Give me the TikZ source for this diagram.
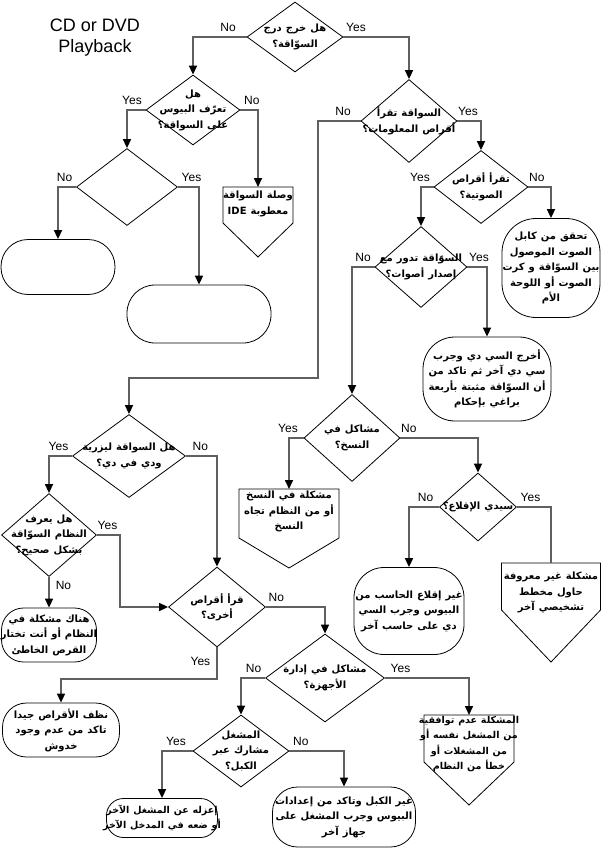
\documentclass[tikz,border=0pt]{standalone}
\usepackage{fontspec}
\setmainfont{Liberation Sans}
\newfontfamily\arabicfont[Script=Arabic, WordSpace=1.15]{DejaVu Sans}
\TeXXeTstate=1
\usepackage{tikz}
\usetikzlibrary{shapes.geometric, arrows.meta}
\definecolor{LineGray}{RGB}{96,96,96}
% outline of an off-page box below a text node: name, half width, shoulder depth, tip depth
\newcommand\pentout[4]{\draw[boxline] (#1.north) ++(-#2,0) -- ++(2*#2,0) -- ++(0,#3) -- ++(-#2,#4) -- ++(-#2,-#4) -- cycle;}

\begin{document}
\begin{tikzpicture}[x=1pt, y=-1pt,
    boxline/.style={draw=black, line width=0.8pt},
    dia/.style={diamond, boxline, inner sep=0pt},
    term/.style={rectangle, boxline, inner sep=0pt},
    txt/.style={align=center, inner sep=0pt, font=\arabicfont\bfseries\fontsize{10}{15.5}\selectfont},
    pent/.style={txt, anchor=north},
    flow/.style={draw=LineGray, line width=1.6pt, -{Triangle[length=9pt, width=8pt, color=black]}},
    plain/.style={draw=LineGray, line width=1.6pt},
    yn/.style={font=\fontsize{12}{12}\selectfont, inner sep=0pt},
    ynl/.style={yn, anchor=south east, xshift=-3pt, yshift=5pt},
    ynr/.style={yn, anchor=south west, xshift=3pt, yshift=5pt}]
    \useasboundingbox (0,0) rectangle (602,848);

    % title
    \node[font=\fontsize{18}{21}\selectfont, align=center] (title) at (95,38) {CD or DVD\\Playback};

    % decisions
    \node[dia, minimum width=96pt, minimum height=70pt, label={[txt]center:{\beginR هل خرج درج\endR\\\beginR السوّاقة؟\endR}}] (d1) at (295,37) {};
    \node[dia, minimum width=94pt, minimum height=70pt, label={[txt]center:{\beginR هل\endR\\\beginR تعرّف البيوس\endR\\\beginR على السواقة؟\endR}}] (d2) at (193,110) {};
    \node[dia, minimum width=101pt, minimum height=77pt] (d4) at (127,187) {};
    \node[dia, minimum width=96pt, minimum height=83pt, label={[txt]center:{\beginR السواقة تقرأ\endR\\\beginR أقراص المعلومات؟\endR}}] (d3) at (409,121) {};
    \node[dia, minimum width=94pt, minimum height=73pt, label={[txt]center:{\beginR تقرأ أقراص\endR\\\beginR الصوتية؟\endR}}] (d5) at (481,187) {};
    \node[dia, minimum width=92pt, minimum height=81pt, label={[txt]center:{\beginR السوّاقة تدور مع\endR\\\beginR إصدار أصوات؟\endR}}] (d6) at (421,267) {};
    \node[dia, minimum width=96pt, minimum height=87pt, label={[txt]center:{\beginR مشاكل في\endR\\\beginR النسخ؟\endR}}] (d7) at (352,438) {};
    \node[dia, minimum width=77pt, minimum height=68pt, label={[txt]center:{\beginR سيدي الإقلاع؟\endR}}] (d8) at (478,507) {};
    \node[dia, minimum width=113pt, minimum height=83pt, label={[txt]center:{\beginR هل السواقة ليزرية\endR\\\beginR ودي في دي؟\endR}}] (d9) at (129,456) {};
    \node[dia, minimum width=95pt, minimum height=83pt, label={[txt]center:{\beginR هل يعرف\endR\\\beginR النظام السوّاقة\endR\\\beginR بشكل صحيح؟\endR}}] (d10) at (49,535) {};
    \node[dia, minimum width=97pt, minimum height=80pt, label={[txt]center:{\beginR قرأ أقراص\endR\\\beginR أخرى؟\endR}}] (d11) at (217,607) {};
    \node[dia, minimum width=119pt, minimum height=88pt, label={[txt]center:{\beginR مشاكل في إدارة\endR\\\beginR الأجهزة؟\endR}}] (d12) at (325,678) {};
    \node[dia, minimum width=96pt, minimum height=72pt, label={[txt]center:{\beginR المشغل\endR\\\beginR مشارك عبر\endR\\\beginR الكبل؟\endR}}] (d13) at (241,751) {};

    % end points
    \node[term, rounded corners=27pt, minimum width=114pt, minimum height=55pt] (t1) at (58,267) {};
    \node[term, rounded corners=28pt, minimum width=144pt, minimum height=58pt] (t2) at (199,314) {};
    \node[term, rounded corners=34pt, minimum width=98pt, minimum height=99pt, label={[txt]center:{\beginR تحقق من كابل\endR\\\beginR الصوت الموصول\endR\\\beginR بين السوّاقة و كرت\endR\\\beginR الصوت أو اللوحة\endR\\\beginR الأم\endR}}] (t3) at (551,268) {};
    \node[term, rounded corners=32pt, minimum width=128pt, minimum height=84pt, label={[txt]center:{\beginR أخرج السي دي وجرب\endR\\\beginR سي دي آخر ثم تاكد من\endR\\\beginR أن السوّاقة مثبتة بأربعة\endR\\\beginR براغي بإحكام\endR}}] (t4) at (487,379) {};
    \node[term, rounded corners=30pt, minimum width=110pt, minimum height=87pt, label={[txt]center:{\beginR غير إقلاع الحاسب من\endR\\\beginR البيوس وجرب السي\endR\\\beginR دي على حاسب آخر\endR}}] (t5) at (409,611) {};
    \node[term, rounded corners=22pt, minimum width=95pt, minimum height=54pt, label={[txt]center:{\beginR هناك مشكلة في\endR\\\beginR النظام أو أنت تختار\endR\\\beginR القرص الخاطئ\endR}}] (t6) at (49,635) {};
    \node[term, rounded corners=24pt, minimum width=117pt, minimum height=54pt, label={[txt]center:{\beginR نظف الأقراص جيدا\endR\\\beginR تاكد من عدم وجود\endR\\\beginR خدوش\endR}}] (t7) at (61,730) {};
    \node[term, rounded corners=17pt, minimum width=111pt, minimum height=39pt, label={[txt, font=\arabicfont\bfseries\fontsize{9.5}{15.5}\selectfont]center:{\beginR إعزله عن المشغل الآخر\endR\\\beginR أو ضعه في المدخل الآخر\endR}}] (t8) at (162,818) {};
    \node[term, rounded corners=25pt, minimum width=143pt, minimum height=60pt, label={[txt]center:{\beginR غير الكبل وتاكد من إعدادات\endR\\\beginR البيوس وجرب المشغل على\endR\\\beginR جهاز آخر\endR}}] (t9) at (344,817) {};

    % off-page boxes
    \node[pent, inner ysep=4pt] (ide) at (258,187) {\beginR وصلة السواقة\endR\\\beginR معطوبة \beginL IDE\endL\endR};
    \pentout{ide}{35}{36}{34}
    \node[pent, inner ysep=2pt] (b1) at (289,489) {\beginR مشكلة في النسخ\endR\\\beginR أو من النظام تجاه\endR\\\beginR النسخ\endR};
    \pentout{b1}{50}{49}{30}
    \node[pent, inner ysep=9pt] (b2) at (551,563) {\beginR مشكلة غير معروفة\endR\\\beginR حاول مخطط\endR\\\beginR تشخيصي آخر\endR};
    \pentout{b2}{49.5}{47}{52}
    \node[pent, inner ysep=1pt, font=\arabicfont\bfseries\fontsize{9.5}{15.5}\selectfont] (b3) at (469,715) {\beginR المشكلة عدم توافقية\endR\\\beginR من المشغل نفسه أو\endR\\\beginR من المشغلات أو\endR\\\beginR خطأ من النظام\endR};
    \pentout{b3}{45}{47}{43}

    % bends
    \coordinate (k1) at (318,378);
    \coordinate (k2) at (120,607);
    \coordinate (k3) at (217,679);

    % connectors
    \draw[flow] (d1.west) node[ynl, xshift=-7pt] (d1no) {No} -| (d2.north);
    \draw[flow] (d1.east) node[ynr, xshift=-1pt] (d1yes) {Yes} -| (d3.north);
    \draw[flow] (d2.west) node[ynl] (d2yes) {Yes} -| (d4.north);
    \draw[flow] (d2.east) node[ynr] (d2no) {No} -| (ide.north);
    \draw[flow] (d4.west) node[ynl] (d4no) {No} -| (t1.north);
    \draw[flow] (d4.east) node[ynr] (d4yes) {Yes} -| (t2.north);
    \draw[flow] (d3.west) node[ynl, xshift=-6pt] (d3no) {No} -| (k1) -| (d9.north);
    \draw[flow] (d3.east) node[ynr, xshift=-3pt] (d3yes) {Yes} -| (d5.north);
    \draw[flow] (d5.west) node[ynl] (d5yes) {Yes} -| (d6.north);
    \draw[flow] (d5.east) node[ynr, xshift=-3pt] (d5no) {No} -| (t3.north);
    \draw[flow] (d6.west) node[ynl] (d6no) {No} -| (d7.north);
    \draw[flow] (d6.east) node[ynr, xshift=-2pt] (d6yes) {Yes} -| (t4.north);
    \draw[flow] (d7.west) node[ynl, xshift=-2pt] (d7yes) {Yes} -| (b1.north);
    \draw[flow] (d7.east) node[ynr, xshift=-3pt] (d7no) {No} -| (d8.north);
    \draw[flow] (d8.west) node[ynl, xshift=-2pt] (d8no) {No} -| (t5.north);
    \draw[plain] (d8.east) node[ynr] (d8yes) {Yes} -| (b2.north);
    \draw[flow] (d9.west) node[ynl] (d9yes) {Yes} -| (d10.north);
    \draw[flow] (d9.east) node[ynr, xshift=3pt] (d9no) {No} -| (d11.north);
    \draw[flow] (d10.east) node[ynr, xshift=-3pt] (d10yes) {Yes} -| (k2) -- (d11.west);
    \draw[flow] (d10.south) node[yn, anchor=north west, xshift=6pt, yshift=-4pt] (d10no) {No} -- (t6.north);
    \draw[flow] (d11.east) node[ynr, xshift=-1pt] (d11no) {No} -| (d12.north);
    \draw[flow] (d11.south) node[yn, anchor=north east, xshift=-6pt, yshift=-9pt] (d11yes) {Yes} -- (k3) -| (t7.north);
    \draw[flow] (d12.west) node[ynl] (d12no) {No} -| (d13.north);
    \draw[flow] (d12.east) node[ynr, xshift=2pt] (d12yes) {Yes} -| (b3.north);
    \draw[flow] (d13.west) node[ynl, xshift=-3pt] (d13yes) {Yes} -| (t8.north);
    \draw[flow] (d13.east) node[ynr] (d13no) {No} -| (t9.north);
\end{tikzpicture}
\end{document}
